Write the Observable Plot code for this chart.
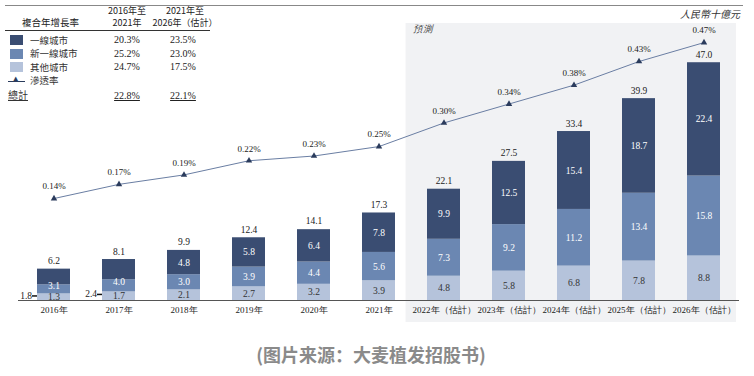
<!DOCTYPE html>
<html><head><meta charset="utf-8">
<script src="https://cdn.jsdelivr.net/npm/d3@7"></script>
<script src="https://cdn.jsdelivr.net/npm/@observablehq/plot@0.6"></script>
<style>
body{margin:0;background:#fff;}
#wrap{position:relative;width:754px;height:376px;overflow:hidden;font-family:"Liberation Serif","Times New Roman","DejaVu Serif",serif;}
.a{position:absolute;white-space:nowrap;line-height:1;}
svg text{font-family:"Liberation Serif","Times New Roman","DejaVu Serif",serif;}
</style></head>
<body><div id="wrap"></div>
<script>
const years = ["2016年","2017年","2018年","2019年","2020年","2021年","2022年（估計）","2023年（估計）","2024年（估計）","2025年（估計）","2026年（估計）"];
const tier1 = [3.1,4.0,4.8,5.8,6.4,7.8,9.9,12.5,15.4,18.7,22.4];
const newTier1 = [1.8,2.4,3.0,3.9,4.4,5.6,7.3,9.2,11.2,13.4,15.8];
const others = [1.3,1.7,2.1,2.7,3.2,3.9,4.8,5.8,6.8,7.8,8.8];
const totals = [6.2,8.1,9.9,12.4,14.1,17.3,22.1,27.5,33.4,39.9,47.0];
const penetration = [0.14,0.17,0.19,0.22,0.23,0.25,0.30,0.34,0.38,0.43,0.47];
const seriesNames = ["其他城市","新一線城市","一線城市"];
const seriesColors = ["#b5c3db","#6b87b2","#3a4d72"];
const legendLabels = ["一線城市","新一線城市","其他城市"];
const cagr1621 = ["20.3%","25.2%","24.7%"];
const cagr2126 = ["23.5%","23.0%","17.5%"];
const totalCagr = ["22.8%","22.1%"];

const rows = [];
years.forEach((y,i)=>{
  rows.push({year:y, s:seriesNames[0], v:others[i], i});
  rows.push({year:y, s:seriesNames[1], v:newTier1[i], i});
  rows.push({year:y, s:seriesNames[2], v:tier1[i], i});
});
const pen = years.map((y,i)=>({year:y, p:penetration[i]}));
const penY = d => d.p*93.4 + 7.08; // secondary (hidden) axis mapped into bar units
const tot = years.map((y,i)=>({year:y, t:totals[i]}));
const outside = rows.filter(d => d.s==="新一線城市" && d.i<2);
const inside = rows.filter(d => !(d.s==="新一線城市" && d.i<2));

const serif = "Liberation Serif, Times New Roman, DejaVu Serif, serif";
const plot = Plot.plot({
  width:754, height:330, marginLeft:18, marginRight:15, marginTop:0, marginBottom:30,
  style:{fontFamily:serif, fontSize:"10px", background:"transparent", overflow:"visible"},
  x:{domain:years, paddingInner:0.5, paddingOuter:0.25, label:null, tickSize:0, tickPadding:6},
  y:{domain:[0,59.3], axis:null},
  color:{domain:seriesNames, range:seriesColors},
  marks:[
    Plot.barY(rows, {x:"year", y:"v", fill:"s", order:seriesNames}),
    Plot.ruleY([0], {stroke:"#555", strokeWidth:1}),
    Plot.text(inside, Plot.stackY({x:"year", y:"v", z:"s", order:seriesNames, text:d=>d.v.toFixed(1),
      fill:d=> d.s==="其他城市" ? "#333" : "#fff", fontSize:9.5, fontFamily:serif})),
    Plot.text(outside, Plot.stackY({x:"year", y:"v", z:"s", order:seriesNames, text:d=>d.v.toFixed(1),
      fill:"#222", fontSize:9.5, fontFamily:serif, textAnchor:"end", dx:-22})),
    Plot.tickY(outside, Plot.stackY({x:"year", y:"v", z:"s", order:seriesNames, stroke:"#111", strokeWidth:1.5, insetLeft:-5, insetRight:33})),
    Plot.text(tot, {x:"year", y:"t", text:d=>d.t.toFixed(1), dy:-8, fill:"#222", fontSize:9.5, fontFamily:serif}),
    Plot.line(pen, {x:"year", y:penY, stroke:"#6a7ea3", strokeWidth:1}),
    Plot.dot(pen, {x:"year", y:penY, symbol:"triangle", r:2.4, fill:"#2a3b5c"}),
    Plot.text(pen, {x:"year", y:penY, text:d=>d.p.toFixed(2)+"%", dy:-12, fill:"#222", fontSize:9, fontFamily:serif}),
    Plot.text(["預測"], {x:()=>years[6], y:()=>53.6, text:d=>d, dx:-31, textAnchor:"start", fontStyle:"italic", fill:"#444", fontSize:9.5, fontFamily:serif})
  ]
});
// shaded forecast background built from the x scale
const xs = plot.scale("x");
const x0 = xs.apply(years[6]) - xs.step*0.33;
const x1 = xs.apply(years[10]) + xs.bandwidth + xs.step*0.245;
const svg = d3.select(plot);
svg.insert("rect", "g").attr("x", x0).attr("y", 23).attr("width", x1-x0).attr("height", 299).attr("fill", "#f1f2f4");
svg.selectAll("g[aria-label='x-axis tick label']").attr("font-size", "9px");
svg.selectAll("g[aria-label='x-axis tick label'] text").attr("fill","#222");

const wrap = document.getElementById("wrap");
plot.style.position="absolute"; plot.style.left="0"; plot.style.top="0";
wrap.appendChild(plot);

function add(html, css){const d=document.createElement("div"); d.className="a"; d.innerHTML=html; Object.assign(d.style, css); wrap.appendChild(d); return d;}
// top rule
add("", {left:"5px", top:"5px", width:"738px", height:"0", borderTop:"1px solid #888"});
add("", {left:"5px", top:"30px", width:"205px", height:"0", borderTop:"1px solid #333"});
const sans = "'Noto Sans CJK TC','Noto Sans',sans-serif";
const hdr = {fontSize:"9px", fontFamily:sans, color:"#222", textAlign:"center"};
add("複合年增長率", {left:"22px", top:"18px", fontSize:"9.5px", fontFamily:sans, color:"#222"});
add("2016年至", Object.assign({left:"97px", top:"6px", width:"60px"}, hdr));
add("2021年", Object.assign({left:"97px", top:"18px", width:"60px"}, hdr));
add("2021年至", Object.assign({left:"155px", top:"6px", width:"60px"}, hdr));
add("2026年（估計）", Object.assign({left:"148px", top:"18px", width:"74px"}, hdr));
const legendColors = [seriesColors[2], seriesColors[1], seriesColors[0]];
legendLabels.forEach((lab,i)=>{
  const cy = 40 + i*13.5;
  add("", {left:"10px", top:(cy-5)+"px", width:"13px", height:"10px", background:legendColors[i]});
  add(lab, {left:"30px", top:(cy-4.5)+"px", fontSize:"9.5px", fontFamily:"'Noto Sans CJK TC',sans-serif", color:"#333"});
  add(cagr1621[i], {left:"107px", top:(cy-5)+"px", width:"40px", textAlign:"center", fontSize:"10px", color:"#222"});
  add(cagr2126[i], {left:"163px", top:(cy-5)+"px", width:"40px", textAlign:"center", fontSize:"10px", color:"#222"});
});
add("", {left:"8px", top:"81px", width:"17px", height:"0", borderTop:"1px solid #2a3b5c"});
add("▲", {left:"13px", top:"76px", fontSize:"7px", color:"#2a3b5c", fontFamily:"DejaVu Sans"});
add("滲透率", {left:"30px", top:"76px", fontSize:"9.5px", fontFamily:"'Noto Sans CJK TC',sans-serif", color:"#333"});
add("總計", {left:"8px", top:"90px", fontSize:"10px", fontFamily:"'Noto Sans CJK TC',sans-serif", color:"#333", textDecoration:"underline"});
add(totalCagr[0], {left:"107px", top:"91px", width:"40px", textAlign:"center", fontSize:"10px", color:"#222", textDecoration:"underline"});
add(totalCagr[1], {left:"163px", top:"91px", width:"40px", textAlign:"center", fontSize:"10px", color:"#222", textDecoration:"underline"});
add("人民幣十億元", {right:"14px", top:"9px", fontSize:"10px", fontStyle:"italic", color:"#333", fontFamily:"'Noto Sans CJK TC',sans-serif"});
add("(图片来源：大麦植发招股书)", {left:"0", width:"742px", top:"345px", textAlign:"center", fontSize:"18px", fontWeight:"bold", color:"#8a8a8a", fontFamily:"'Noto Sans CJK SC',sans-serif"});
</script></body></html>
